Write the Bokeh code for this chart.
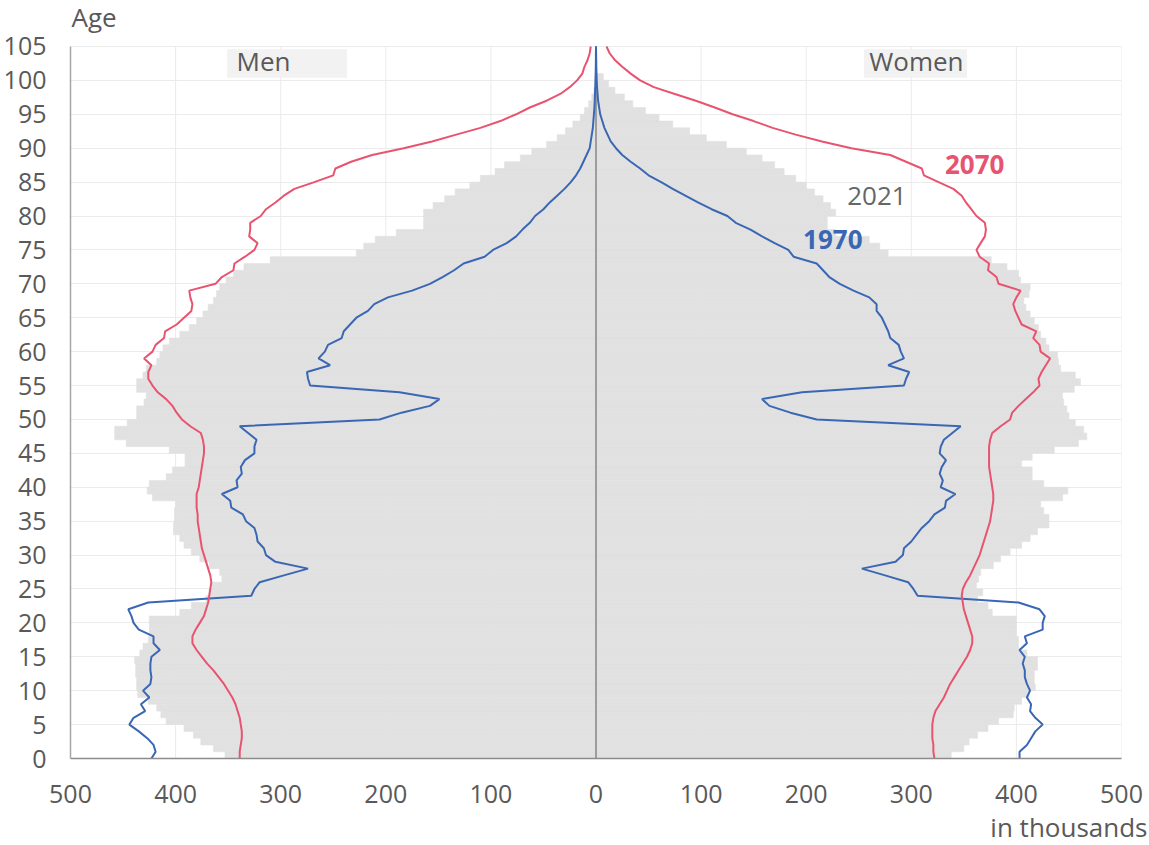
from bokeh.plotting import figure
from bokeh.models import FixedTicker, Label, BoxAnnotation, Range1d, Title
from bokeh.embed import file_html
from bokeh.resources import INLINE

# ---------------- data (thousands) ----------------
ages_2021 = list(range(0, 101))
men_2021 = [353, 364, 376, 383, 392, 409, 414, 418, 426, 436,
            437, 437, 438, 438, 439, 434, 431, 426, 425, 425,
            425, 396, 385, 371, 368, 366, 356, 358, 368, 377,
            385, 392, 396, 402, 402, 401, 401, 400, 422, 427,
            425, 409, 403, 391, 391, 406, 447, 458, 458, 446,
            437, 437, 430, 428, 437, 437, 431, 428, 418, 415,
            412, 406, 396, 387, 380, 374, 369, 364, 361, 358,
            352, 345, 335, 310, 228, 221, 210, 190, 164, 164,
            164, 155, 144, 134, 120, 110, 96, 87, 72, 61,
            47, 37, 29, 22, 15, 11, 7, 4, 2, 1, 1]
women_2021 = [338, 350, 355, 363, 373, 383, 397, 398, 405, 412,
              418, 417, 417, 420, 420, 410, 402, 402, 400, 400,
              400, 377, 373, 363, 368, 362, 364, 366, 378, 385,
              394, 405, 413, 420, 431, 431, 426, 423, 444, 449,
              426, 415, 415, 405, 415, 436, 459, 467, 464, 456,
              450, 448, 445, 444, 455, 461, 456, 442, 440, 439,
              431, 428, 423, 421, 417, 413, 409, 407, 412, 413,
              404, 402, 391, 376, 278, 270, 260, 228, 220, 220,
              228, 223, 216, 208, 200, 190, 179, 170, 158, 143,
              124, 105, 89, 73, 60, 47, 35, 27, 18, 12, 7]

ages_line = list(range(0, 106))
men_1970 = [423, 419, 421, 427, 435, 444, 440, 429, 433, 425,
            431, 424, 423, 424, 424, 423, 415, 421, 421, 435,
            440, 442, 445, 426, 328, 325, 320, 297, 274, 305,
            314, 316, 322, 323, 325, 333, 336, 347, 348, 356,
            341, 342, 337, 338, 334, 325, 325, 323, 331, 339,
            206, 185, 158, 149, 187, 272, 274, 275, 253, 264,
            258, 255, 242, 240, 234, 228, 217, 211, 198, 175,
            158, 146, 135, 126, 106, 98, 85, 76, 70, 63,
            58, 50, 44, 37, 30, 24, 19, 15, 12, 9,
            6, 5, 4, 3, 2.5, 2, 1.5, 1.2, 1, 0.7,
            0.5, 0.3, 0.2, 0.1, 0.1, 0]
women_1970 = [403, 403, 410, 414, 418, 425, 418, 413, 414, 410,
              413, 410, 408, 408, 406, 408, 403, 410, 408, 425,
              425, 427, 422, 402, 306, 302, 297, 275, 253, 285,
              292, 293, 300, 305, 310, 317, 322, 332, 333, 342,
              328, 330, 327, 329, 333, 327, 328, 331, 339, 347,
              210, 185, 165, 158, 196, 293, 295, 298, 278, 293,
              290, 288, 280, 278, 275, 272, 267, 267, 260, 245,
              232, 222, 216, 210, 188, 183, 170, 158, 147, 133,
              125, 110, 97, 85, 73, 62, 50, 42, 33, 25,
              19, 14, 11, 8, 6, 4, 3, 2, 1.5, 1,
              0.7, 0.5, 0.3, 0.2, 0.1, 0]
men_2070 = [339, 339, 338, 337, 337, 338, 339, 341, 343, 346,
            350, 354, 359, 364, 370, 375, 380, 384, 384, 381,
            377, 373, 371, 369, 368, 367, 366, 367, 369, 371,
            373, 375, 376, 377, 378, 379, 379, 380, 380, 380,
            378, 377, 376, 375, 374, 373, 373, 374, 376, 386,
            394, 399, 403, 409, 417, 422, 426, 426, 423, 430,
            422, 419, 411, 410, 399, 392, 385, 384, 386, 387,
            362, 356, 345, 344, 334, 325, 322, 330, 329, 329,
            319, 314, 305, 297, 287, 268, 250, 248, 233, 213,
            183, 156, 133, 110, 91, 76, 63, 47, 34, 25,
            18, 13, 11, 8, 6, 5]
women_2070 = [322, 321, 321, 320, 320, 320, 321, 323, 327, 331,
              334, 337, 341, 345, 349, 353, 356, 358, 358, 356,
              354, 352, 350, 349, 348, 349, 352, 356, 359, 362,
              365, 367, 369, 371, 373, 375, 376, 377, 378, 378,
              377, 376, 375, 374, 374, 374, 374, 375, 377, 385,
              394, 396, 402, 409, 416, 422, 421, 424, 428, 432,
              423, 422, 416, 419, 405, 402, 399, 397, 400, 404,
              383, 381, 373, 374, 365, 362, 366, 370, 371, 370,
              362, 357, 352, 348, 340, 326, 312, 310, 295, 280,
              243, 215, 190, 168, 150, 130, 113, 95, 75, 55,
              42, 33, 25, 18, 13, 10]

x_ticks = [-500, -400, -300, -200, -100, 0, 100, 200, 300, 400, 500]
y_ticks = list(range(0, 106, 5))

# ---------------- style ----------------
FONT = "Open Sans"
TXT = "#595959"
BAR = "#E1E1E1"
RED = "#E8536F"
BLUE = "#3A67B4"
GRID = "#EBEBEB"
AGE_MAX = 105

p = figure(width=1149, height=845, title=None,
           x_range=Range1d(-500, 500), y_range=Range1d(0, 111.78),
           output_backend="svg", toolbar_location=None,
           min_border_left=70, min_border_right=28,
           min_border_top=0, min_border_bottom=86)
p.outline_line_color = None
p.background_fill_color = "white"

# vertical grid lines limited to the age range
p.xgrid.visible = False
p.segment(x0=x_ticks, y0=[0] * len(x_ticks), x1=x_ticks, y1=[AGE_MAX] * len(x_ticks),
          line_color=GRID, line_width=1, level="underlay")
p.ygrid.grid_line_color = GRID
p.ygrid.grid_line_width = 1

# bars 2021
p.quad(left=[-v for v in men_2021], right=[0] * len(men_2021),
       bottom=ages_2021, top=[a + 1 for a in ages_2021],
       fill_color=BAR, line_color=BAR, line_width=0.6)
p.quad(left=[0] * len(women_2021), right=women_2021,
       bottom=ages_2021, top=[a + 1 for a in ages_2021],
       fill_color=BAR, line_color=BAR, line_width=0.6)

# centre line
p.segment(x0=[0], y0=[0], x1=[0], y1=[AGE_MAX], line_color="#707070", line_width=1.2)

# lines
p.line([-v for v in men_1970], ages_line, line_color=BLUE, line_width=2)
p.line(women_1970, ages_line, line_color=BLUE, line_width=2)
p.line([-v for v in men_2070], ages_line, line_color=RED, line_width=2)
p.line(women_2070, ages_line, line_color=RED, line_width=2)

# axes
p.xaxis.ticker = FixedTicker(ticks=x_ticks)
p.xaxis.major_label_overrides = {t: str(abs(t)) for t in x_ticks}
p.yaxis.ticker = FixedTicker(ticks=y_ticks)
p.yaxis.bounds = (0, AGE_MAX)
for ax in (p.xaxis, p.yaxis):
    ax.major_tick_line_color = None
    ax.minor_tick_line_color = None
    ax.major_label_text_font = FONT
    ax.major_label_text_color = TXT
    ax.major_label_text_font_size = "25px"
p.yaxis.major_label_standoff = 18
p.xaxis.major_label_standoff = 20
p.yaxis.axis_line_color = "#A6A6A6"
p.yaxis.axis_line_width = 1.5
p.xaxis.axis_line_color = "#8C8C8C"
p.xaxis.axis_line_width = 1.5

# unit note under the x axis
p.add_layout(Title(text="in thousands", align="right", text_font=FONT, text_font_size="26px",
                   text_font_style="normal", text_color=TXT, standoff=2, offset=-26), "below")

# in-plot annotations
p.add_layout(BoxAnnotation(left=-351, right=-237, bottom=100.4, top=104.6,
                           fill_color="#F2F2F2", fill_alpha=1, line_color=None))
p.add_layout(BoxAnnotation(left=255, right=353, bottom=100.4, top=104.6,
                           fill_color="#F2F2F2", fill_alpha=1, line_color=None))

def lab(x, y, text, color=TXT, size="26px", style="normal", align="left"):
    p.add_layout(Label(x=x, y=y, text=text, text_align=align, text_baseline="middle",
                       text_font=FONT, text_font_size=size, text_color=color,
                       text_font_style=style))

lab(-499, 109.4, "Age")
lab(-342, 102.9, "Men")
lab(260, 102.9, "Women")
lab(332, 87.6, "2070", color=RED, style="bold")
lab(239, 82.9, "2021", color="#666666")
lab(197, 76.5, "1970", color=BLUE, style="bold")

open("out.html", "w").write(file_html(p, INLINE))
